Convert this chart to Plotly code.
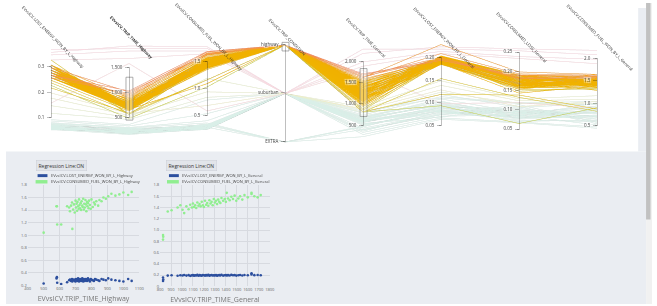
import plotly.graph_objects as go

W, H = 657, 306

# ---------------- data ----------------
dim_labels = [
    "EVvsICV.LOST_ENERGY_WON_BY_L_Highway",
    "<b>EVvsICV.TRIP_TIME_Highway</b>",
    "EVvsICV.CONSUMED_FUEL_WON_BY_L_Highway",
    "EVvsICV.TRIP_CONDITION",
    "EVvsICV.TRIP_TIME_General",
    "EVvsICV.LOST_ENERGY_WON_BY_L_General",
    "EVvsICV.CONSUMED_LOSS_General",
    "EVvsICV.CONSUMED_FUEL_WON_BY_L_General",
]
trip_categories = ["EXTRA", "suburban", "highway"]

# highlighted (selected) trips
sel_lost_hwy = [0.23, 0.24, 0.22, 0.31, 0.33, 0.26, 0.25, 0.28, 0.29, 0.27,
                0.30, 0.28, 0.29, 0.27, 0.26, 0.30, 0.28, 0.29, 0.27, 0.31,
                0.28, 0.26, 0.29, 0.30, 0.28, 0.27, 0.29, 0.31, 0.28, 0.26,
                0.30, 0.29, 0.27, 0.28, 0.30, 0.29, 0.27, 0.28, 0.31, 0.29,
                0.28, 0.26, 0.30, 0.29, 0.28, 0.27, 0.30, 0.29, 0.28, 0.27,
                0.30, 0.29, 0.28, 0.31, 0.29, 0.28, 0.27, 0.26, 0.27, 0.30]
sel_time_hwy = [500, 585, 610, 581, 583, 680, 647, 660, 665, 672,
                678, 685, 690, 695, 700, 703, 707, 710, 712, 716,
                720, 722, 725, 728, 732, 735, 738, 742, 745, 748,
                752, 755, 758, 762, 765, 768, 772, 775, 778, 782,
                785, 790, 795, 800, 808, 815, 822, 830, 842, 850,
                863, 875, 890, 905, 925, 950, 975, 1000, 1052, 1030]
sel_fuel_hwy = [1.04, 1.17, 1.17, 1.46, 1.46, 1.10, 1.46, 1.44,
                1.38, 1.47, 1.52, 1.41, 1.49, 1.36, 1.55, 1.44,
                1.50, 1.39, 1.53, 1.46, 1.42, 1.57, 1.48, 1.43,
                1.51, 1.40, 1.54, 1.47, 1.45, 1.58, 1.41, 1.50,
                1.44, 1.56, 1.49, 1.38, 1.53, 1.46, 1.51, 1.43,
                1.55, 1.48, 1.42, 1.57, 1.45, 1.52, 1.49, 1.54,
                1.47, 1.56,
                1.54, 1.60, 1.58, 1.62, 1.66, 1.63, 1.65, 1.68, 1.69, 1.64]
sel_condition = [2] * 60
sel_time_gen = [827, 827, 829, 905, 870, 960, 1005, 985, 1020, 1040,
                1060, 1075, 1090, 1100, 1110, 1120, 1130, 1140, 1150, 1160,
                1170, 1180, 1190, 1200, 1210, 1220, 1230, 1240, 1250, 1260,
                1270, 1280, 1290, 1300, 1310, 1320, 1330, 1340, 1350, 1360,
                1375, 1390, 1400, 1408, 1420, 1435, 1450, 1465, 1480, 1495,
                1514, 1530, 1550, 1570, 1600, 1634, 1634, 1660, 1718, 1690]
sel_lost_gen = [0.095, 0.155, 0.120, 0.195, 0.190, 0.188, 0.192, 0.196, 0.200, 0.190,
                0.198, 0.186, 0.194, 0.200, 0.189, 0.197, 0.192, 0.203, 0.188, 0.199,
                0.194, 0.187, 0.201, 0.196, 0.190, 0.198, 0.193, 0.205, 0.189, 0.196,
                0.200, 0.191, 0.197, 0.194, 0.202, 0.188, 0.195, 0.199, 0.192, 0.204,
                0.190, 0.196, 0.201, 0.193, 0.198, 0.191, 0.203, 0.195, 0.199, 0.190,
                0.197, 0.202, 0.193, 0.200, 0.196, 0.230, 0.210, 0.198, 0.195, 0.201]
sel_loss_gen = [0.066, 0.134, 0.140, 0.150, 0.155, 0.145, 0.160, 0.170, 0.175, 0.168,
                0.180, 0.162, 0.172, 0.185, 0.158, 0.176, 0.165, 0.190, 0.160, 0.182,
                0.170, 0.155, 0.178, 0.186, 0.168, 0.174, 0.163, 0.192, 0.158, 0.180,
                0.172, 0.166, 0.184, 0.170, 0.188, 0.160, 0.176, 0.182, 0.168, 0.190,
                0.164, 0.178, 0.186, 0.172, 0.180, 0.166, 0.192, 0.175, 0.184, 0.168,
                0.178, 0.188, 0.170, 0.192, 0.182, 0.200, 0.195, 0.186, 0.190, 0.183]
sel_fuel_gen = [0.91, 0.83, 0.88, 1.35, 1.33, 1.40, 1.36, 1.44, 1.30, 1.42,
                1.37, 1.45, 1.40, 1.47, 1.41, 1.44, 1.39, 1.49, 1.43, 1.46,
                1.42, 1.50, 1.44, 1.41, 1.52, 1.45, 1.48, 1.43, 1.53, 1.47,
                1.50, 1.44, 1.55, 1.49, 1.52, 1.46, 1.54, 1.50, 1.48, 1.57,
                1.52, 1.55, 1.50, 1.66, 1.56, 1.53, 1.59, 1.55, 1.61, 1.52,
                1.56, 1.60, 1.54, 1.62, 1.58, 1.66, 1.64, 1.60, 1.62, 1.58]

# faded (filtered-out) trips
ctx_lost_hwy = [0.062, 0.058, 0.070, 0.066, 0.055, 0.075, 0.060, 0.068, 0.072, 0.057,
                0.064, 0.078, 0.061, 0.069, 0.074, 0.059, 0.083, 0.065, 0.071, 0.060,
                0.090, 0.095, 0.067, 0.063, 0.073, 0.058, 0.080, 0.066,
                0.18, 0.15, 0.20, 0.12,
                0.37, 0.35, 0.36, 0.33, 0.16]
ctx_time_hwy = [210, 230, 190, 260, 240, 280, 200, 250, 300, 180,
                220, 270, 245, 215, 290, 235, 320, 205, 255, 225,
                350, 380, 265, 195, 285, 240, 310, 230,
                560, 520, 600, 480,
                1900, 1850, 1950, 1700, 1600]
ctx_fuel_hwy = [0.30, 0.28, 0.33, 0.27, 0.31, 0.35, 0.26, 0.29, 0.32, 0.27,
                0.34, 0.30, 0.28, 0.36, 0.31, 0.29, 0.42, 0.27, 0.33, 0.30,
                0.55, 0.80, 0.28, 0.31, 0.34, 0.26, 0.38, 0.30,
                0.95, 1.20, 0.70, 0.85,
                1.75, 1.70, 1.78, 1.65, 0.60]
ctx_condition = [1, 1, 1, 1, 1, 1, 1, 1, 1, 1,
                 0, 1, 1, 0, 1, 1, 1, 1, 1, 0,
                 1, 1, 1, 1, 1, 1, 0, 1,
                 1, 1, 1, 1,
                 1, 1, 1, 1, 1]
ctx_time_gen = [520, 610, 450, 700, 560, 640, 380, 590, 730, 300,
                480, 660, 540, 420, 690, 620, 760, 350, 580, 500,
                800, 850, 670, 410, 710, 600, 250, 630,
                900, 950, 880, 820,
                2200, 2000, 2300, 1900, 1800]
ctx_lost_gen = [0.085, 0.090, 0.078, 0.095, 0.070, 0.100, 0.082, 0.088, 0.105, 0.068,
                0.092, 0.097, 0.080, 0.075, 0.110, 0.086, 0.115, 0.072, 0.094, 0.084,
                0.120, 0.112, 0.099, 0.076, 0.103, 0.083, 0.065, 0.091,
                0.140, 0.150, 0.130, 0.125,
                0.225, 0.215, 0.220, 0.210, 0.100]
ctx_loss_gen = [0.095, 0.088, 0.102, 0.080, 0.110, 0.092, 0.075, 0.098, 0.085, 0.070,
                0.105, 0.090, 0.082, 0.115, 0.095, 0.078, 0.120, 0.088, 0.100, 0.072,
                0.108, 0.118, 0.083, 0.097, 0.091, 0.086, 0.068, 0.080,
                0.125, 0.130, 0.110, 0.118,
                0.260, 0.240, 0.255, 0.235, 0.120]
ctx_fuel_gen = [0.72, 0.80, 0.65, 0.88, 0.55, 0.95, 0.60, 0.77, 1.02, 0.48,
                0.70, 0.84, 0.68, 0.58, 0.92, 0.74, 1.05, 0.52, 0.79, 0.63,
                1.00, 0.98, 0.86, 0.62, 0.90, 0.71, 0.45, 0.82,
                1.10, 1.18, 1.05, 1.00,
                2.20, 2.00, 2.10, 1.90, 0.90]

# axis ticks and ranges
dim_ranges = [[0.007, 0.389], [30, 1970], [0.03, 1.81], [0, 2],
              [126, 2396], [0.015, 0.229], [0.018, 0.27], [0.14, 2.32]]
dim_tickvals = [[0.1, 0.2, 0.3], [500, 1000, 1500], [0.5, 1.0, 1.5], [0, 1, 2],
                [500, 1000, 1500, 2000], [0.05, 0.10, 0.15, 0.20],
                [0.05, 0.10, 0.15, 0.20, 0.25], [0.5, 1.0, 1.5, 2.0]]
dim_ticktext = [["0.1", "0.2", "0.3"], ["500", "1,000", "1,500"], ["0.5", "1.0", "1.5"],
                trip_categories, ["500", "1,000", "1,500", "2,000"],
                ["0.05", "0.10", "0.15", "0.20"], ["0.05", "0.10", "0.15", "0.20", "0.25"],
                ["0.5", "1.0", "1.5", "2.0"]]
# brushed ranges (filter) on three axes
dim_constraints = [None, [481, 1302], None, [1.83, 2.0], [736, 1808], None, None, None]

scatter1_x_ticks = [400, 500, 600, 700, 800, 900, 1000, 1100]
scatter1_y_ticks = [0.2, 0.4, 0.6, 0.8, 1.0, 1.2, 1.4, 1.6, 1.8]
scatter1_y_text = ["0.2", "0.4", "0.6", "0.8", "1.0", "1.2", "1.4", "1.6", "1.8"]
scatter2_x_ticks = [800, 900, 1000, 1100, 1200, 1300, 1400, 1500, 1600, 1700, 1800]
scatter2_y_ticks = [0, 0.2, 0.4, 0.6, 0.8, 1.0, 1.2, 1.4, 1.6, 1.8]
scatter2_y_text = ["0", "0.2", "0.4", "0.6", "0.8", "1.0", "1.2", "1.4", "1.6", "1.8"]

# ---------------- helpers ----------------
def px(x):
    return x / W

def py(y):
    return 1 - y / H

cmin_v, cmax_v = 30, 1970

def tnorm(b):
    return (b - cmin_v) / (cmax_v - cmin_v)

sel_all = [sel_lost_hwy, sel_time_hwy, sel_fuel_hwy, sel_condition,
           sel_time_gen, sel_lost_gen, sel_loss_gen, sel_fuel_gen]
ctx_all = [ctx_lost_hwy, ctx_time_hwy, ctx_fuel_hwy, ctx_condition,
           ctx_time_gen, ctx_lost_gen, ctx_loss_gen, ctx_fuel_gen]

# draw order: faded rows first, then brushed rows with the gold ones last (on top)
sel_order = sorted(range(len(sel_time_hwy)), key=lambda k: -abs(tnorm(sel_time_hwy[k]) - 0.38))
n_ctx = len(ctx_time_hwy)
cols = [list(ctx_all[i]) + [sel_all[i][k] for k in sel_order] for i in range(8)]

# colour: faded rows use the lower (pale) half of the scale, brushed rows the upper half
color_vals = []
for k, b in enumerate(cols[1]):
    t = tnorm(b)
    color_vals.append(0.5 * t if k < n_ctx else 0.5 + 0.5 * t)

pale = [[0, '#d8efe9'], [0.18, '#dbefe8'], [0.24, '#e8f1cf'], [0.33, '#f8edc4'],
        [0.6, '#fadcd8'], [1, '#fad9e3']]
bright = [[0, '#7fcdbb'], [0.22, '#b9d45a'], [0.29, '#dcc52c'], [0.33, '#f0b400'],
          [0.43, '#f0b000'], [0.48, '#f39a3c'], [0.54, '#f38a6c'], [1, '#ea6a90']]
colorscale = [[0.5 * p, c] for p, c in pale[:-1]] + [[0.4999, pale[-1][1]]] + \
             [[0.5 + 0.5 * p, c] for p, c in bright]

PC_L, PC_R, PC_T, PC_B = 49, 602, 40, 143
pc_domain = dict(x=[px(PC_L), px(PC_R)], y=[py(PC_B), py(PC_T)])

dims = []
for i in range(8):
    dims.append(dict(values=cols[i], range=dim_ranges[i], label=" ",
                     tickvals=dim_tickvals[i], ticktext=dim_ticktext[i]))

fig = go.Figure()
fig.add_trace(go.Parcoords(
    domain=pc_domain, dimensions=dims,
    line=dict(color=color_vals, colorscale=colorscale, cmin=0, cmax=1),
    labelfont=dict(size=1, color='rgba(0,0,0,0)'),
    tickfont=dict(size=4.5, color='#444', family='Open Sans'),
    rangefont=dict(size=1, color='rgba(0,0,0,0)'),
))

blue = '#2c4f9e'
green = '#90ee90'
fig.add_trace(go.Scatter(x=sel_time_hwy, y=sel_lost_hwy, mode='markers',
                         marker=dict(color=blue, size=2.6), xaxis='x', yaxis='y', showlegend=False))
fig.add_trace(go.Scatter(x=sel_time_hwy, y=sel_fuel_hwy, mode='markers',
                         marker=dict(color=green, size=2.6), xaxis='x', yaxis='y', showlegend=False))
fig.add_trace(go.Scatter(x=sel_time_gen, y=sel_lost_gen, mode='markers',
                         marker=dict(color=blue, size=2.6), xaxis='x2', yaxis='y2', showlegend=False))
fig.add_trace(go.Scatter(x=sel_time_gen, y=sel_fuel_gen, mode='markers',
                         marker=dict(color=green, size=2.6), xaxis='x2', yaxis='y2', showlegend=False))

bg = '#eaedf2'
grid = '#d7dae0'
tickf = dict(size=4, color='#666', family='Open Sans')
axcommon = dict(showgrid=True, gridcolor=grid, gridwidth=0.5, zeroline=False,
                tickfont=tickf, ticks='', showline=False, fixedrange=True, tickangle=0)

fig.update_layout(
    width=W, height=H, margin=dict(l=0, r=0, t=0, b=0),
    paper_bgcolor='white', plot_bgcolor=bg, showlegend=False,
    font=dict(family='Open Sans'),
    xaxis=dict(domain=[px(25), px(138)], range=[400, 1100], tickvals=scatter1_x_ticks,
               title=dict(text='EVvsICV.TRIP_TIME_Highway', font=dict(size=7, color='#777'), standoff=5),
               anchor='y', **axcommon),
    yaxis=dict(domain=[py(287), py(185)], range=[0.2, 1.8], tickvals=scatter1_y_ticks,
               ticktext=scatter1_y_text, anchor='x', **axcommon),
    xaxis2=dict(domain=[px(159), px(270)], range=[800, 1800], tickvals=scatter2_x_ticks,
                title=dict(text='EVvsICV.TRIP_TIME_General', font=dict(size=7, color='#777'), standoff=5),
                anchor='y2', **axcommon),
    yaxis2=dict(domain=[py(288), py(185)], range=[0, 1.8], tickvals=scatter2_y_ticks,
                ticktext=scatter2_y_text, anchor='x2', **axcommon),
)

shapes = [
    dict(type='rect', xref='paper', yref='paper', x0=px(3), x1=px(651), y0=0, y1=py(151),
         fillcolor=bg, line=dict(width=0), layer='below'),
    dict(type='rect', xref='paper', yref='paper', x0=px(643), x1=px(651), y0=py(151), y1=py(5),
         fillcolor=bg, line=dict(width=0), layer='below'),
    dict(type='rect', xref='paper', yref='paper', x0=px(651), x1=1, y0=0, y1=1,
         fillcolor='#f1f1f1', line=dict(width=0), layer='below'),
    dict(type='rect', xref='paper', yref='paper', x0=px(651), x1=px(655.5), y0=py(220), y1=1,
         fillcolor='#c1c1c1', line=dict(width=0), layer='below'),
    dict(type='rect', xref='paper', yref='paper', x0=px(35), x1=px(45), y0=py(177), y1=py(174),
         fillcolor=blue, line=dict(width=0)),
    dict(type='rect', xref='paper', yref='paper', x0=px(33), x1=px(45), y0=py(183.5), y1=py(180),
         fillcolor=green, line=dict(width=0)),
    dict(type='rect', xref='paper', yref='paper', x0=px(168), x1=px(178), y0=py(177), y1=py(174),
         fillcolor=blue, line=dict(width=0)),
    dict(type='rect', xref='paper', yref='paper', x0=px(166), x1=px(178), y0=py(183.5), y1=py(180),
         fillcolor=green, line=dict(width=0)),
]

# brush boxes, placed from the constraint values through each axis' range
axis_x = [PC_L + i * (PC_R - PC_L) / 7 for i in range(8)]
for i, cr in enumerate(dim_constraints):
    if cr is None:
        continue
    lo, hi = dim_ranges[i]
    y0 = PC_B - (cr[0] - lo) / (hi - lo) * (PC_B - PC_T)
    y1 = PC_B - (cr[1] - lo) / (hi - lo) * (PC_B - PC_T)
    shapes.append(dict(type='rect', xref='paper', yref='paper',
                       x0=px(axis_x[i] - 3.5), x1=px(axis_x[i] + 3.5),
                       y0=py(y0), y1=py(y1), fillcolor='rgba(255,255,255,0.35)',
                       line=dict(color='#8a8a8a', width=0.7)))
fig.update_layout(shapes=shapes)

leg_font = dict(size=4, color='#444', family='Open Sans')
btn_font = dict(size=5, color='#333', family='Open Sans')
annotations = [
    dict(text='Regression Line:ON', xref='paper', yref='paper', x=px(33.5), y=py(165.5),
         showarrow=False, font=btn_font, bgcolor='#e2e5ea', bordercolor='#c9cdd4',
         borderwidth=0.5, borderpad=2),
    dict(text='Regression Line:ON', xref='paper', yref='paper', x=px(165.5), y=py(165),
         showarrow=False, font=btn_font, bgcolor='#e2e5ea', bordercolor='#c9cdd4',
         borderwidth=0.5, borderpad=2),
    dict(text='EVvsICV.LOST_ENERGY_WON_BY_L_Highway', xref='paper', yref='paper',
         x=px(46.5), y=py(175.5), xanchor='left', showarrow=False, font=leg_font),
    dict(text='EVvsICV.CONSUMED_FUEL_WON_BY_L_Highway', xref='paper', yref='paper',
         x=px(46.5), y=py(181.8), xanchor='left', showarrow=False, font=leg_font),
    dict(text='EVvsICV.LOST_ENERGY_WON_BY_L_General', xref='paper', yref='paper',
         x=px(179.5), y=py(175.5), xanchor='left', showarrow=False, font=leg_font),
    dict(text='EVvsICV.CONSUMED_FUEL_WON_BY_L_General', xref='paper', yref='paper',
         x=px(179.5), y=py(181.8), xanchor='left', showarrow=False, font=leg_font),
]
for i, lab in enumerate(dim_labels):
    annotations.append(dict(text=lab, xref='paper', yref='paper', x=px(axis_x[i] + 2), y=py(35),
                            xanchor='center', yanchor='middle',
                            textangle=45, showarrow=False,
                            font=dict(size=4.2, color='#333', family='Open Sans')))
fig.update_layout(annotations=annotations)

fig.write_html("out.html", config={'displayModeBar': False},
               post_script="document.body.style.margin='0px';document.body.style.overflow='hidden';")
